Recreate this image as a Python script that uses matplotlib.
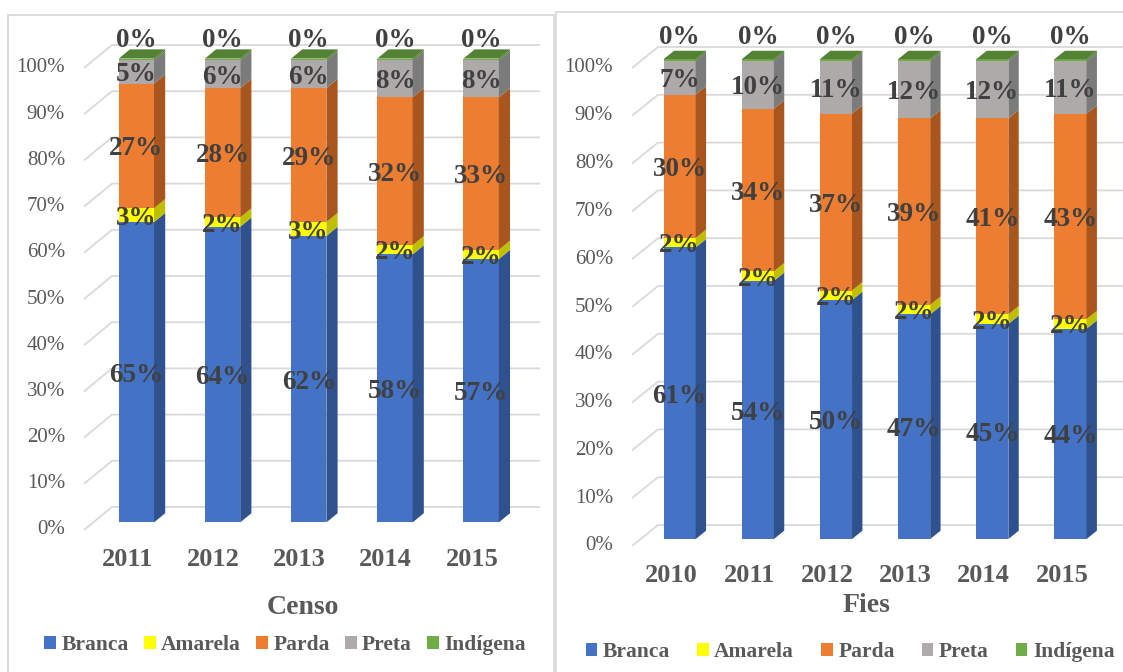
import matplotlib
matplotlib.use("Agg")
import matplotlib.pyplot as plt
from matplotlib.patches import Rectangle, Polygon
import matplotlib.transforms as mtransforms

# ---------------- data ----------------
series = ["Branca", "Amarela", "Parda", "Preta", "Indígena"]

censo_years = ["2011", "2012", "2013", "2014", "2015"]
censo_branca = [65, 64, 62, 58, 57]
censo_amarela = [3, 2, 3, 2, 2]
censo_parda = [27, 28, 29, 32, 33]
censo_preta = [5, 6, 6, 8, 8]
censo_indigena = [0.4, 0.4, 0.4, 0.4, 0.4]

fies_years = ["2010", "2011", "2012", "2013", "2014", "2015"]
fies_branca = [61, 54, 50, 47, 45, 44]
fies_amarela = [2, 2, 2, 2, 2, 2]
fies_parda = [30, 34, 37, 39, 41, 43]
fies_preta = [7, 10, 11, 12, 12, 11]
fies_indigena = [0.4, 0.4, 0.4, 0.4, 0.4, 0.4]

ticks = [0, 10, 20, 30, 40, 50, 60, 70, 80, 90, 100]

# ---------------- style ----------------
front_cols = ["#4472c4", "#ffff00", "#ed7d31", "#aeaaaa", "#70ad47"]
side_cols = ["#2f528f", "#bfbf00", "#a9561e", "#7b7b7b", "#548235"]
top_col = "#548235"
legend_cols = ["#4472c4", "#ffff00", "#ed7d31", "#aeaaaa", "#70ad47"]
grid_col = "#d9d9d9"
lab_col = "#404040"
tick_col = "#595959"
SERIF = "Liberation Serif"

W, H = 1123, 672
fig = plt.figure(figsize=(W / 100, H / 100), dpi=100)


def px_rect(x0, ytop, x1, ybot):
    return [x0 / W, 1 - ybot / H, (x1 - x0) / W, (ybot - ytop) / H]


# panel borders
for (x0, y0, x1, y1) in [(8, 15, 554, 680), (556, 12, 1135, 680)]:
    fig.patches.append(Rectangle((x0 / W, 1 - y1 / H), (x1 - x0) / W, (y1 - y0) / H,
                                 transform=fig.transFigure, fill=False,
                                 edgecolor=grid_col, lw=1.3))


def draw_panel(rect, years, data, depth, title, title_pos, legend_pos, colsp, zero_off):
    ax = fig.add_axes(rect)
    n = len(years)
    ax.set_xlim(-0.5, n - 0.5)
    ax.set_ylim(0, 100)
    ax.axis("off")
    Dx, Dy = depth
    f1, f2 = 0.33, 0.73
    w = 0.41
    xl, xr = -0.5, n - 0.5

    # gridlines (3D wall)
    for t in ticks:
        ax.plot([xl, xl + Dx, xr + Dx * 0.9], [t, t + Dy, t + Dy],
                color=grid_col, lw=1.3, zorder=1, clip_on=False,
                solid_capstyle="butt")
        tr = mtransforms.offset_copy(ax.transData, fig=fig, x=-19, y=0, units="dots")
        ax.text(xl, t, f"{t}%", transform=tr, ha="right", va="center",
                fontsize=15, family=SERIF, color=tick_col)

    lab_tr = mtransforms.offset_copy(ax.transData, fig=fig, x=0, y=-3, units="dots")
    # bars
    for i in range(n):
        bottom = 0
        cx = i + f1 * Dx
        fx0 = cx - w / 2
        fx1 = cx + w / 2
        sdx = (f2 - f1) * Dx
        for k, vals in enumerate(data):
            v = vals[i]
            y0, y1 = bottom, bottom + v
            ax.add_patch(Rectangle((fx0, y0 + f1 * Dy), w, v, facecolor=front_cols[k],
                                   edgecolor="none", zorder=3, clip_on=False))
            ax.add_patch(Polygon([(fx1, y0 + f1 * Dy), (fx1 + sdx, y0 + f2 * Dy),
                                  (fx1 + sdx, y1 + f2 * Dy), (fx1, y1 + f1 * Dy)],
                                 closed=True, facecolor=side_cols[k], edgecolor="none",
                                 zorder=3, clip_on=False))
            bottom = y1
        top = bottom
        ax.add_patch(Polygon([(fx0, top + f1 * Dy), (fx1, top + f1 * Dy),
                              (fx1 + sdx, top + f2 * Dy), (fx0 + sdx, top + f2 * Dy)],
                             closed=True, facecolor=top_col, edgecolor="none",
                             zorder=3, clip_on=False))
        # labels
        bottom = 0
        for k, vals in enumerate(data):
            v = vals[i]
            if k == len(data) - 1:
                ly = top + f1 * Dy + zero_off
            else:
                ly = bottom + v / 2 + f1 * Dy
            ax.text(cx, ly, f"{round(v)}%", transform=lab_tr, ha="center", va="center",
                    fontsize=19.5, fontweight="bold", family=SERIF, color=lab_col,
                    zorder=5, clip_on=False)
            bottom += v
        # year label
        tr = mtransforms.offset_copy(ax.transData, fig=fig, x=0, y=-30, units="dots")
        ax.text(i, 0, years[i], transform=tr, ha="center", va="center",
                fontsize=19, fontweight="bold", family=SERIF, color=tick_col)

    # title
    fig.text(title_pos[0] / W, 1 - title_pos[1] / H, title, ha="center", va="center",
             fontsize=20, fontweight="bold", family=SERIF, color=tick_col)
    # legend
    handles = [Rectangle((0, 0), 1, 1, facecolor=c, edgecolor="none") for c in legend_cols]
    fig.legend(handles, series, loc="center",
               bbox_to_anchor=(legend_pos[0] / W, 1 - legend_pos[1] / H),
               ncol=5, frameon=False, handlelength=0.55, handleheight=0.55,
               handletextpad=0.25, columnspacing=colsp,
               prop={"family": SERIF, "weight": "bold", "size": 15.5},
               labelcolor=tick_col, borderaxespad=0, borderpad=0)
    return ax


censo_data = [censo_branca, censo_amarela, censo_parda, censo_preta, censo_indigena]
fies_data = [fies_branca, fies_amarela, fies_parda, fies_preta, fies_indigena]

draw_panel(px_rect(84, 68, 515, 530), censo_years, censo_data,
           (28 / 86.2, 23 / 4.62), "Censo", (303, 608), (285, 645), 0.7, 4.6)
draw_panel(px_rect(632, 68, 1101, 546), fies_years, fies_data,
           (26 / 78.2, 21 / 4.78), "Fies", (866, 605), (850, 652), 1.25, 5.2)

fig.savefig("out.png", dpi=100)
